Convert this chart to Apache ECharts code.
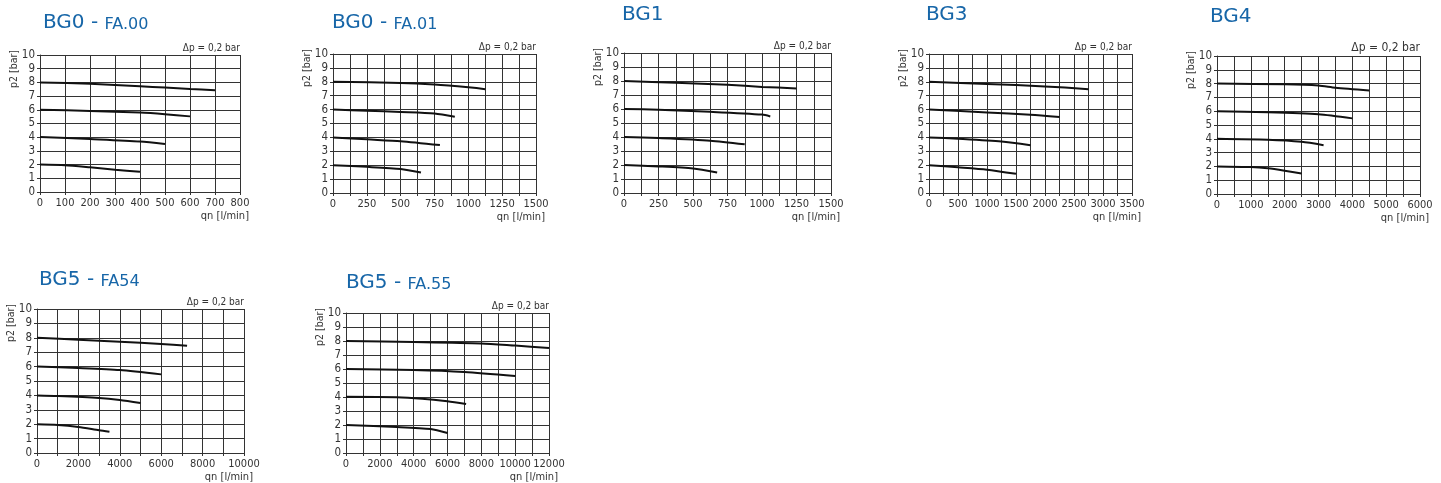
<!DOCTYPE html>
<html>
<head>
<meta charset="utf-8">
<script src="https://cdn.jsdelivr.net/npm/echarts@6/dist/echarts.min.js"></script>
<style>
html, body { margin: 0; padding: 0; background: #fff; }
#chart { width: 1441px; height: 483px; }
</style>
</head>
<body>
<div id="chart"></div>
<script>
// chart titles (big part + small part)
const titleMain = ['BG0 - ', 'BG0 - ', 'BG1', 'BG3', 'BG4', 'BG5 - ', 'BG5 - '];
const titleSub = ['FA.00', 'FA.01', '', '', '', 'FA54', 'FA.55'];

// x axis: max, grid step, label step
const xMax = [800, 1500, 1500, 3500, 6000, 10000, 12000];
const xGridStep = [100, 125, 125, 250, 500, 1000, 1000];
const xLabelStep = [100, 250, 250, 500, 1000, 2000, 2000];

// y axis p2 [bar]
const yMax = 10;
const yStep = 1;

// curves [qn, p2] at inlet 8, 6, 4, 2 bar
const curvesBG0FA00 = [
  [[0, 8], [200, 7.9], [400, 7.72], [500, 7.62], [600, 7.52], [700, 7.43]],
  [[0, 6], [200, 5.92], [400, 5.8], [500, 5.68], [600, 5.52]],
  [[0, 4.02], [200, 3.86], [400, 3.68], [500, 3.5]],
  [[0, 2], [100, 1.95], [200, 1.8], [300, 1.63], [400, 1.47]]
];
const curvesBG0FA01 = [
  [[0, 8], [500, 7.92], [750, 7.8], [1000, 7.6], [1125, 7.47]],
  [[0, 6], [250, 5.92], [500, 5.83], [750, 5.72], [900, 5.48]],
  [[0, 4], [250, 3.86], [500, 3.73], [790, 3.45]],
  [[0, 2], [250, 1.88], [500, 1.72], [650, 1.47]]
];
const curvesBG1 = [
  [[0, 8], [375, 7.88], [750, 7.73], [1000, 7.58], [1250, 7.47]],
  [[0, 6], [250, 5.95], [625, 5.8], [1000, 5.6], [1060, 5.47]],
  [[0, 4], [250, 3.92], [625, 3.74], [875, 3.48]],
  [[0, 2], [250, 1.9], [500, 1.75], [675, 1.47]]
];
const curvesBG3 = [
  [[0, 8], [1000, 7.85], [2000, 7.67], [2750, 7.47]],
  [[0, 6], [1000, 5.8], [1750, 5.63], [2250, 5.47]],
  [[0, 4], [500, 3.9], [1250, 3.7], [1750, 3.43]],
  [[0, 2], [500, 1.85], [1000, 1.68], [1500, 1.38]]
];
const curvesBG4 = [
  [[0, 8], [2000, 7.95], [3000, 7.86], [3500, 7.7], [4500, 7.5]],
  [[0, 6], [1500, 5.93], [3000, 5.78], [4000, 5.48]],
  [[0, 4], [1500, 3.93], [2500, 3.78], [3150, 3.54]],
  [[0, 2], [1000, 1.95], [1500, 1.86], [2000, 1.69], [2500, 1.49]]
];
const curvesBG5FA54 = [
  [[0, 8], [2000, 7.87], [4000, 7.73], [6000, 7.57], [7250, 7.45]],
  [[0, 6], [2000, 5.9], [4000, 5.76], [6000, 5.46]],
  [[0, 4], [1000, 3.96], [3000, 3.82], [4000, 3.68], [5000, 3.47]],
  [[0, 2], [1000, 1.95], [2000, 1.81], [3000, 1.58], [3500, 1.48]]
];
const curvesBG5FA55 = [
  [[0, 8], [4000, 7.93], [8000, 7.83], [10000, 7.67], [12000, 7.5]],
  [[0, 6], [4000, 5.93], [7000, 5.79], [10000, 5.5]],
  [[0, 4.02], [3000, 3.99], [4500, 3.88], [6000, 3.69], [7100, 3.5]],
  [[0, 2], [3000, 1.86], [5000, 1.71], [6000, 1.43]]
];
const allCurves = [curvesBG0FA00, curvesBG0FA01, curvesBG1, curvesBG3, curvesBG4, curvesBG5FA54, curvesBG5FA55];

// layout of each small chart (plot box) and its title
const boxes = [
  { l: 40, t: 55, w: 200, h: 137, tx: 43, ty: 10, dp: 10 },
  { l: 333, t: 54, w: 203, h: 139, tx: 332, ty: 10, dp: 10 },
  { l: 624, t: 53, w: 207, h: 140, tx: 622, ty: 2, dp: 10 },
  { l: 929, t: 54, w: 203, h: 139, tx: 926, ty: 2, dp: 10 },
  { l: 1217, t: 56, w: 203, h: 138, tx: 1210, ty: 4, dp: 12 },
  { l: 37, t: 309, w: 207, h: 144, tx: 39, ty: 267, dp: 10 },
  { l: 346, t: 313, w: 203, h: 140, tx: 346, ty: 270, dp: 10 }
];

const narrow = "'Liberation Sans Narrow', 'Arial Narrow', 'DejaVu Sans Condensed', sans-serif";
const blue = '#1766a8';
const gridColor = '#333';

const option = {
  animation: false,
  backgroundColor: '#fff',
  title: [],
  grid: [],
  xAxis: [],
  yAxis: [],
  series: [],
  graphic: []
};

boxes.forEach((b, i) => {
  option.title.push({
    left: b.tx,
    top: b.ty,
    padding: 0,
    text: '{a|' + titleMain[i] + '}' + (titleSub[i] ? '{b|' + titleSub[i] + '}' : ''),
    textStyle: {
      fontWeight: 'normal',
      rich: {
        a: { fontFamily: 'DejaVu Sans', fontWeight: 'normal', fontSize: 20, lineHeight: 23, color: blue, verticalAlign: 'bottom' },
        b: { fontFamily: 'DejaVu Sans', fontWeight: 'normal', fontSize: 16, lineHeight: 20, color: blue, verticalAlign: 'bottom' }
      }
    }
  });
  option.grid.push({ left: b.l, top: b.t, width: b.w, height: b.h, containLabel: false });
  option.xAxis.push({
    type: 'value',
    gridIndex: i,
    min: 0,
    max: xMax[i],
    interval: xGridStep[i],
    name: 'qn [l/min]',
    nameLocation: 'end',
    nameGap: 9,
    nameTextStyle: { fontFamily: narrow, fontSize: 11, color: '#333', align: 'right', verticalAlign: 'top', padding: [19, 0, 0, 0] },
    axisLine: { show: true, lineStyle: { color: gridColor, width: 1 } },
    axisTick: { show: true, length: 3, lineStyle: { color: gridColor } },
    axisLabel: {
      margin: 6,
      fontFamily: narrow,
      fontSize: 11,
      color: '#333',
      formatter: v => (v % xLabelStep[i] === 0 ? String(v) : '')
    },
    splitLine: { show: true, lineStyle: { color: gridColor, width: 1 } }
  });
  option.yAxis.push({
    type: 'value',
    gridIndex: i,
    min: 0,
    max: yMax,
    interval: yStep,
    axisLine: { show: true, lineStyle: { color: gridColor, width: 1 } },
    axisTick: { show: true, length: 3, lineStyle: { color: gridColor } },
    axisLabel: { margin: 5, fontFamily: narrow, fontSize: 11.5, color: '#333' },
    splitLine: { show: true, lineStyle: { color: gridColor, width: 1 } }
  });
  allCurves[i].forEach(curve => {
    option.series.push({
      type: 'line',
      xAxisIndex: i,
      yAxisIndex: i,
      data: curve,
      smooth: 0.25,
      symbol: 'none',
      lineStyle: { color: '#111', width: 2 }
    });
  });
  // y axis name, rotated, left of the tick labels
  option.graphic.push({
    type: 'text',
    x: b.l - 26,
    y: b.t - 5,
    rotation: Math.PI / 2,
    style: {
      text: 'p2 [bar]',
      fontFamily: narrow,
      fontSize: 10.5,
      fill: '#333',
      textAlign: 'right',
      textVerticalAlign: 'middle'
    }
  });
  option.graphic.push({
    type: 'text',
    x: b.l + b.w,
    y: b.t - 2,
    style: {
      text: 'Δp = 0,2 bar',
      fontFamily: narrow,
      fontSize: b.dp,
      fill: '#333',
      textAlign: 'right',
      textVerticalAlign: 'bottom'
    }
  });
});

const chart = echarts.init(document.getElementById('chart'));
chart.setOption(option);
window.addEventListener('resize', () => chart.resize());
</script>
</body>
</html>
